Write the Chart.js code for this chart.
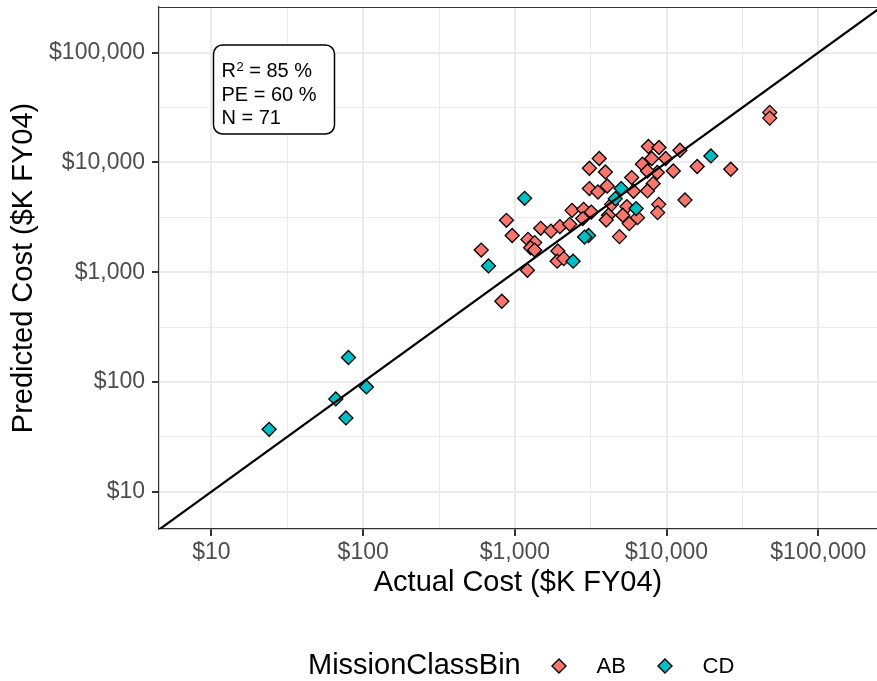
<!DOCTYPE html>
<html>
<head>
<meta charset="utf-8">
<script src="https://cdn.jsdelivr.net/npm/chart.js@4"></script>
<style>
  html, body { margin: 0; padding: 0; background: #fff; }
  #wrap { width: 877px; height: 681px; }
</style>
</head>
<body>
<div id="wrap"><canvas id="cost-chart" width="877" height="681"></canvas></div>
<script>
// Skutečné vs. predikované náklady ($K FY04)
const abActual = [7590, 8910, 3600, 3100, 3950, 7980, 6930, 9860, 12250, 15920, 26500, 11070, 8690, 7480,
    5890, 8150, 7480, 6050, 4060, 3100, 3530, 4340, 5470, 8870, 8730, 13220, 2380, 2840, 3190, 2800,
    4140, 4000, 5140, 6430, 5670, 880, 1480, 1730, 1980, 2300, 960, 1220, 1350, 1270, 1350, 4890,
    600, 1920, 1900, 2100, 1210, 820, 47860, 47860];
const abPredicted = [13960, 13680, 10860, 8850, 8190, 10860, 9640, 10860, 12920, 9180, 8670, 8360, 8090, 8360,
    7280, 6410, 5500, 5460, 6100, 5780, 5380, 4150, 3960, 4150, 3490, 4550, 3660, 3740, 3530, 3080,
    3300, 2990, 3300, 3140, 2770, 2970, 2510, 2370, 2600, 2730, 2160, 1990, 1860, 1670, 1590, 2110,
    1590, 1560, 1260, 1330, 1040, 543, 28570, 25350];
const cdActual = [19590, 5020, 4590, 6300, 1160, 3060, 2880, 2420, 670, 80, 105, 66, 77, 24];
const cdPredicted = [11460, 5780, 4680, 3800, 4710, 2160, 2090, 1260, 1140, 167, 90, 70, 47, 37];

// Čára y = x
const refLine = [1, 1000000];

// Popisky os
const majorTicks = [10, 100, 1000, 10000, 100000];
const tickLabels = ['$10', '$100', '$1,000', '$10,000', '$100,000'];
const minorTicks = [31.62, 316.2, 3162, 31623];

const statsLines = [['R', '2', ' = 85 %'], ['PE = 60 %'], ['N = 71']];
const legendTitle = 'MissionClassBin';

const FONT = "'Liberation Sans', Arial, Helvetica, sans-serif";
const RED = '#F8766D';
const TEAL = '#00BFC4';

function toPoints(xs, ys) {
    return xs.map((x, i) => ({ x: x, y: ys[i] }));
}

function setTicks(scale) {
    const ticks = [];
    majorTicks.forEach(v => ticks.push({ value: v, minor: false }));
    minorTicks.forEach(v => ticks.push({ value: v, minor: true }));
    ticks.sort((a, b) => a.value - b.value);
    scale.ticks = ticks;
}

function tickLabel(value) {
    const i = majorTicks.indexOf(value);
    return i >= 0 ? tickLabels[i] : '';
}

const gridOpts = {
    color: '#EBEBEB',
    lineWidth: ctx => (ctx.tick && ctx.tick.minor) ? 1 : 2,
    tickLength: 7,
    tickColor: ctx => (ctx.tick && ctx.tick.minor) ? 'rgba(0,0,0,0)' : '#333333',
    tickWidth: 2
};

// Rámeček panelu nahoře, textový box se statistikami a legenda dole
const extrasPlugin = {
    id: 'extras',
    afterDraw(chart) {
        const ctx = chart.ctx;
        const area = chart.chartArea;
        ctx.save();

        ctx.strokeStyle = '#333333';
        ctx.lineWidth = 1.2;
        ctx.beginPath();
        ctx.moveTo(area.left, area.top + 0.5);
        ctx.lineTo(area.right, area.top + 0.5);
        ctx.stroke();

        // box se statistikami
        const bx = area.left + 54.5, by = 45, bw = 121, bh = 89, r = 9;
        ctx.beginPath();
        ctx.roundRect(bx, by, bw, bh, r);
        ctx.fillStyle = '#ffffff';
        ctx.fill();
        ctx.lineWidth = 1.5;
        ctx.strokeStyle = '#000000';
        ctx.stroke();

        ctx.fillStyle = '#000000';
        ctx.textBaseline = 'alphabetic';
        ctx.textAlign = 'left';
        const baselines = [77, 101, 124];
        statsLines.forEach((parts, li) => {
            let x = bx + 8;
            const y = baselines[li];
            if (parts.length === 3) {
                ctx.font = '20px ' + FONT;
                ctx.fillText(parts[0], x, y);
                x += ctx.measureText(parts[0]).width;
                ctx.font = '13px ' + FONT;
                ctx.fillText(parts[1], x + 0.5, y - 6);
                x += ctx.measureText(parts[1]).width + 0.5;
                ctx.font = '20px ' + FONT;
                ctx.fillText(parts[2], x, y);
            } else {
                ctx.font = '20px ' + FONT;
                ctx.fillText(parts[0], x, y);
            }
        });

        // legenda
        const ly = 666;
        ctx.textBaseline = 'middle';
        ctx.font = '29px ' + FONT;
        ctx.fillText(legendTitle, 308, ly);
        const items = chart.data.datasets.filter(d => d.legendX !== undefined);
        items.forEach(d => {
            ctx.beginPath();
            ctx.moveTo(d.legendX, ly - 7);
            ctx.lineTo(d.legendX + 7, ly);
            ctx.lineTo(d.legendX, ly + 7);
            ctx.lineTo(d.legendX - 7, ly);
            ctx.closePath();
            ctx.fillStyle = d.backgroundColor;
            ctx.fill();
            ctx.lineWidth = 1.4;
            ctx.strokeStyle = '#000000';
            ctx.stroke();
            ctx.fillStyle = '#000000';
            ctx.font = '22px ' + FONT;
            ctx.fillText(d.label, d.legendX + 37.5, ly + 1);
        });
        ctx.restore();
    }
};

const chart = new Chart(document.getElementById('cost-chart').getContext('2d'), {
    type: 'scatter',
    data: {
        datasets: [
            {
                label: 'fit',
                data: toPoints(refLine, refLine),
                showLine: true,
                borderColor: '#000000',
                borderWidth: 2.2,
                pointRadius: 0,
                fill: false
            },
            {
                label: 'CD',
                data: toPoints(cdActual, cdPredicted),
                pointStyle: 'rectRot',
                pointRadius: 7,
                borderWidth: 1.3,
                borderColor: '#000000',
                backgroundColor: TEAL,
                legendX: 665
            },
            {
                label: 'AB',
                data: toPoints(abActual, abPredicted),
                pointStyle: 'rectRot',
                pointRadius: 7,
                borderWidth: 1.3,
                borderColor: '#000000',
                backgroundColor: RED,
                legendX: 559
            }
        ]
    },
    options: {
        responsive: false,
        animation: false,
        events: [],
        layout: { autoPadding: false, padding: { top: 7, left: 0, right: 0, bottom: 0 } },
        plugins: {
            legend: { display: false },
            tooltip: { enabled: false }
        },
        scales: {
            x: {
                type: 'logarithmic',
                min: 4.51,
                max: 243800,
                afterBuildTicks: setTicks,
                afterFit: scale => {
                    scale.height = 152;
                    scale.paddingLeft = 0;
                    scale.paddingRight = 0;
                },
                grid: gridOpts,
                border: { display: true, color: '#333333', width: 1.2 },
                ticks: {
                    autoSkip: false,
                    maxRotation: 0,
                    padding: 3,
                    color: '#4D4D4D',
                    font: { family: FONT, size: 23 },
                    callback: tickLabel
                },
                title: {
                    display: true,
                    text: 'Actual Cost ($K FY04)',
                    color: '#000000',
                    font: { family: FONT, size: 29 },
                    padding: { top: 0, bottom: 81 }
                }
            },
            y: {
                type: 'logarithmic',
                min: 4.57,
                max: 260800,
                afterBuildTicks: setTicks,
                afterFit: scale => {
                    scale.width = 159;
                    scale.paddingTop = 0;
                    scale.paddingBottom = 0;
                },
                grid: gridOpts,
                border: { display: true, color: '#333333', width: 1.2 },
                ticks: {
                    autoSkip: false,
                    padding: 7,
                    color: '#4D4D4D',
                    font: { family: FONT, size: 23 },
                    callback: tickLabel
                },
                title: {
                    display: true,
                    text: 'Predicted Cost ($K FY04)',
                    color: '#000000',
                    font: { family: FONT, size: 29 },
                    padding: { top: 7, bottom: 0 }
                }
            }
        }
    },
    plugins: [extrasPlugin]
});
</script>
</body>
</html>
